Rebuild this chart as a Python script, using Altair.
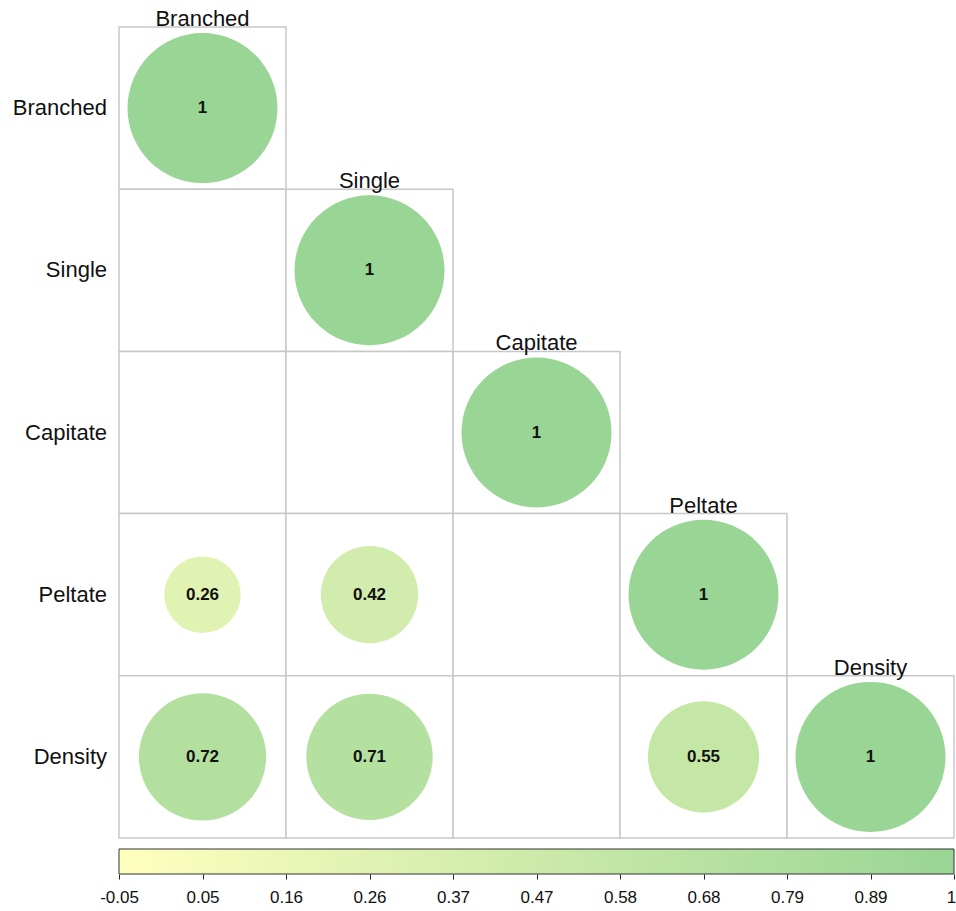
import altair as alt
import pandas as pd

# Variables of the correlation matrix (lower triangle, row by row)
names = ["Branched", "Single", "Capitate", "Peltate", "Density"]
corr_rows = [
    [1],
    [None, 1],
    [None, None, 1],
    [0.26, 0.42, None, 1],
    [0.72, 0.71, None, 0.55, 1],
]

# Colour bar settings
bar_lo, bar_hi = -0.05, 1.0
tick_values = [-0.05, 0.055, 0.16, 0.265, 0.37, 0.475, 0.58, 0.685, 0.79, 0.895, 1.0]
tick_labels = ["-0.05", "0.05", "0.16", "0.26", "0.37", "0.47", "0.58", "0.68", "0.79", "0.89", "1"]
low_color, high_color = "#ffffbf", "#99d594"

FONT = "Liberation Sans"

records = []
for i, row in enumerate(corr_rows):
    for j, v in enumerate(row):
        records.append({
            "row": names[i], "col": names[j], "i": i, "j": j,
            "value": v,
            "label": ("" if v is None else ("1" if v == 1 else f"{v:.2f}")),
            "diag": i == j,
        })
cells = pd.DataFrame(records)
filled = cells[cells["value"].notna()].copy()
diag = cells[cells["diag"]].copy()
row_labels = pd.DataFrame({"name": names, "i": list(range(len(names)))})

n = len(names)
xs = alt.Scale(domain=[0, n], nice=False, zero=False)
ys = alt.Scale(domain=[0, n], nice=False, zero=False, reverse=True)

grid = alt.Chart(cells).transform_calculate(
    x0="datum.j", x1="datum.j + 1", y0="datum.i", y1="datum.i + 1",
).mark_rect(fill="white", stroke="#c8c8c8", strokeWidth=1.5).encode(
    x=alt.X("x0:Q", scale=xs, axis=None),
    x2="x1:Q",
    y=alt.Y("y0:Q", scale=ys, axis=None),
    y2="y1:Q",
)

# Circle area proportional to the correlation (symbol size = diameter squared)
circles = alt.Chart(filled).transform_calculate(
    xc="datum.j + 0.5", yc="datum.i + 0.5"
).mark_circle(opacity=1, strokeWidth=0).encode(
    x=alt.X("xc:Q", scale=xs, axis=None),
    y=alt.Y("yc:Q", scale=ys, axis=None),
    size=alt.Size("value:Q", scale=alt.Scale(domain=[0, 1], range=[0, 22500], zero=True), legend=None),
    color=alt.Color("value:Q", scale=alt.Scale(domain=[bar_lo, bar_hi], range=[low_color, high_color],
                                              interpolate="rgb"), legend=None),
)

values = alt.Chart(filled).transform_calculate(
    xc="datum.j + 0.5", yc="datum.i + 0.5"
).mark_text(font=FONT, fontSize=17, fontWeight="bold", color="#111111", baseline="middle").encode(
    x=alt.X("xc:Q", scale=xs, axis=None),
    y=alt.Y("yc:Q", scale=ys, axis=None),
    text="label:N",
)

top_names = alt.Chart(diag).transform_calculate(
    xc="datum.j + 0.5"
).mark_text(font=FONT, fontSize=22, color="#111111", baseline="alphabetic", dy=-1).encode(
    x=alt.X("xc:Q", scale=xs, axis=None),
    y=alt.Y("i:Q", scale=ys, axis=None),
    text="col:N",
)

side_names = alt.Chart(row_labels).transform_calculate(
    x0="0", yc="datum.i + 0.5"
).mark_text(font=FONT, fontSize=22, color="#111111", align="right", baseline="middle", dx=-12).encode(
    x=alt.X("x0:Q", scale=xs, axis=None),
    y=alt.Y("yc:Q", scale=ys, axis=None),
    text="name:N",
)

matrix = alt.layer(grid, circles, values, top_names, side_names).properties(width=835, height=811)

# Horizontal colour bar with its own value axis
bar_df = pd.DataFrame({"lo": [bar_lo], "hi": [bar_hi]})
label_expr = "[" + ",".join(f"'{t}'" for t in tick_labels) + "][indexof([" + \
    ",".join(str(v) for v in tick_values) + "], datum.value)]"
colorbar = alt.Chart(bar_df).mark_rect(
    fill=alt.Gradient(gradient="linear", x1=0, x2=1, y1=0, y2=0,
                      stops=[alt.GradientStop(color=low_color, offset=0),
                             alt.GradientStop(color=high_color, offset=1)]),
    stroke="#333333", strokeWidth=1,
).encode(
    x=alt.X("lo:Q", scale=alt.Scale(domain=[bar_lo, bar_hi], nice=False, zero=False),
            axis=alt.Axis(values=tick_values, labelExpr=label_expr, title=None, domain=False,
                          grid=False, ticks=True, tickSize=5, tickColor="#222222", tickWidth=1,
                          labelFont=FONT, labelFontSize=17, labelColor="#111111",
                          labelPadding=10, labelFlush=False, labelOverlap=False,
                          # keep the end label inside the page edge
                          labelOffset={"condition": {"test": "datum.value == 1", "value": -3},
                                       "value": 0})),
    x2="hi:Q",
).properties(width=835, height=25)

chart = alt.vconcat(matrix, colorbar, spacing=9).properties(
    padding={"left": 12, "top": 8, "right": 0, "bottom": 0},
    background="white",
).configure_view(stroke=None)

chart.save("out.html", embed_options={"renderer": "svg", "actions": False})
